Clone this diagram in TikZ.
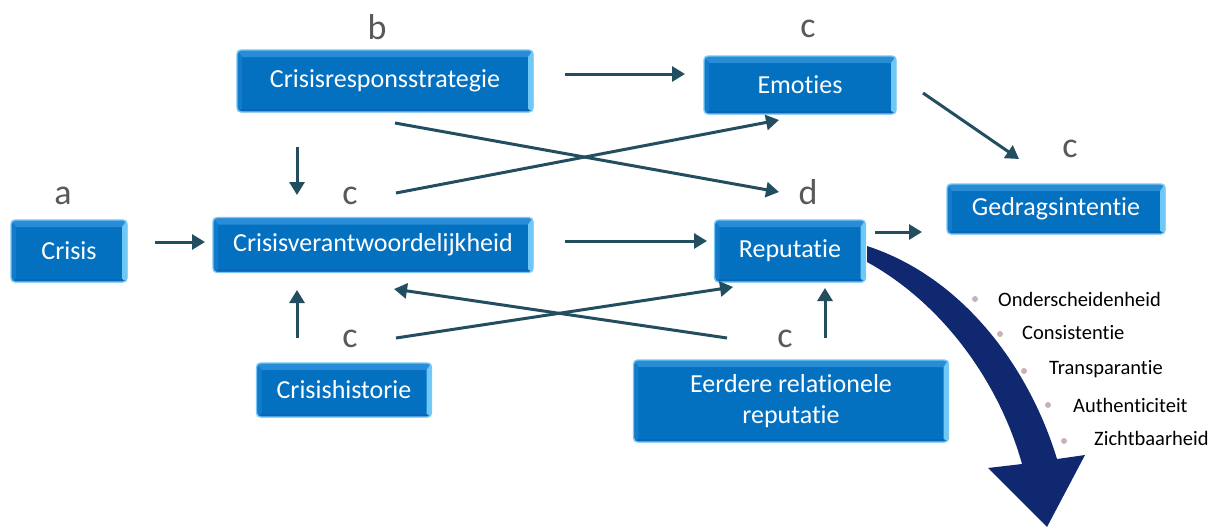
\documentclass[tikz,border=0pt]{standalone}
\usepackage{fontspec}
\setmainfont{Carlito}[Ligatures=NoCommon]
\usetikzlibrary{arrows.meta}
\definecolor{boxblue}{RGB}{4,112,192}
\definecolor{boxedge}{RGB}{120,200,245}
\definecolor{bevtop}{RGB}{40,140,215}
\definecolor{bevright}{RGB}{110,200,245}
\definecolor{bevleft}{RGB}{20,122,202}
\definecolor{bevbot}{RGB}{8,102,180}
\definecolor{arr}{RGB}{34,78,96}
\definecolor{lab}{RGB}{89,89,89}
\definecolor{navy}{RGB}{16,40,112}
\definecolor{dotc}{RGB}{200,178,188}
\begin{document}
\begin{tikzpicture}[x=1pt,y=-1pt,
  bx/.style={draw=boxedge,line width=1.4pt,fill=boxblue,rounded corners=4pt,
    text=white,font=\fontsize{26}{31}\selectfont,align=center,inner sep=0pt,
    path picture={
      \coordinate (nw) at (path picture bounding box.north west);
      \coordinate (ne) at (path picture bounding box.north east);
      \coordinate (sw) at (path picture bounding box.south west);
      \coordinate (se) at (path picture bounding box.south east);
      \fill[bevtop,sharp corners] (nw) -- (ne) -- ([xshift=-5pt,yshift=-7pt]ne) -- ([xshift=5pt,yshift=-7pt]nw) -- cycle;
      \fill[bevright,sharp corners] (ne) -- (se) -- ([xshift=-5pt,yshift=3pt]se) -- ([xshift=-5pt,yshift=-7pt]ne) -- cycle;
      \fill[bevleft,sharp corners] (nw) -- (sw) -- ([xshift=5pt,yshift=3pt]sw) -- ([xshift=5pt,yshift=-7pt]nw) -- cycle;
      \fill[bevbot,sharp corners] (sw) -- (se) -- ([xshift=-5pt,yshift=3pt]se) -- ([xshift=5pt,yshift=3pt]sw) -- cycle;
    }},
  lb/.style={text=lab,font=\fontsize{36}{40}\selectfont,inner sep=0pt},
  ar/.style={draw=arr,line width=3pt,-{Triangle[length=13pt,width=15pt]}},
  li/.style={font=\fontsize{20.5}{24}\selectfont,anchor=west,inner sep=0pt},
  dt/.style={circle,fill=dotc,inner sep=0pt,minimum size=6pt}]
\useasboundingbox (0,0) rectangle (1215,528);
% boxes
\node[bx,minimum width=116pt,minimum height=62pt] (crisis) at (69,251) {Crisis};
\node[bx,minimum width=296pt,minimum height=62pt] (resp) at (385,81) {Crisisresponsstrategie};
\node[bx,minimum width=192pt,minimum height=58pt] (emo) at (800,85) {Emoties};
\node[bx,minimum width=320pt,minimum height=55pt] (verant) at (373,245) {Crisisverantwoordelijkheid};
\node[bx,minimum width=151pt,minimum height=62pt] (rep) at (790,251) {Reputatie};
\node[bx,minimum width=218pt,minimum height=50pt] (gedrag) at (1056,209) {Gedragsintentie};
\node[bx,minimum width=175pt,minimum height=54pt] (hist) at (344,390) {Crisishistorie};
\node[bx,minimum width=315pt,minimum height=82pt] (eerd) at (791,401) {Eerdere relationele\\reputatie};
% labels
\node[lb] (la) at (63,196) {a};
\node[lb] (lbb) at (377,27) {b};
\node[lb] (lc1) at (808,29) {c};
\node[lb] (lc2) at (350,196) {c};
\node[lb] (ld) at (808,192) {d};
\node[lb] (lc3) at (1070,149) {c};
\node[lb] (lc4) at (350,339) {c};
\node[lb] (lc5) at (785,339) {c};
% arrow anchor coordinates
\coordinate (a1s) at (155,242); \coordinate (a1e) at (205,242);
\coordinate (a2s) at (565,74); \coordinate (a2e) at (685,74);
\coordinate (a3s) at (297,147); \coordinate (a3e) at (297,195);
\coordinate (a4s) at (395,123); \coordinate (a4e) at (779,192);
\coordinate (a5s) at (396,193); \coordinate (a5e) at (779,120);
\coordinate (a6s) at (923,93); \coordinate (a6e) at (1019,159);
\coordinate (a7s) at (565,241); \coordinate (a7e) at (707,241);
\coordinate (a8s) at (875,232); \coordinate (a8e) at (922,232);
\coordinate (a9s) at (297,338); \coordinate (a9e) at (297,290);
\coordinate (a10s) at (396,338); \coordinate (a10e) at (733,287);
\coordinate (a11s) at (727,338); \coordinate (a11e) at (394,289);
\coordinate (a12s) at (825,338); \coordinate (a12e) at (825,288);
\foreach \i in {1,...,12} {\draw[ar] (a\i s) -- (a\i e);}
% big curved arrow
\fill[navy] (867,246) .. controls (965,278) and (1030,370) .. (1057,459)
  -- (1085,455) -- (1047,527) -- (988,468) -- (1022,464)
  .. controls (1000,385) and (945,305) .. (867,262) -- cycle;
% list
\node[dt] (d1) at (975,299) {}; \node[li] (t1) at (998,299) {Onderscheidenheid};
\node[dt] (d2) at (1000,334) {}; \node[li] (t2) at (1022,333) {Consistentie};
\node[dt] (d3) at (1024,371) {}; \node[li] (t3) at (1049,369) {Transparantie};
\node[dt] (d4) at (1048,405) {}; \node[li] (t4) at (1073,405) {Authenticiteit};
\node[dt] (d5) at (1064,441) {}; \node[li] (t5) at (1094,438) {Zichtbaarheid};
\end{tikzpicture}
\end{document}
